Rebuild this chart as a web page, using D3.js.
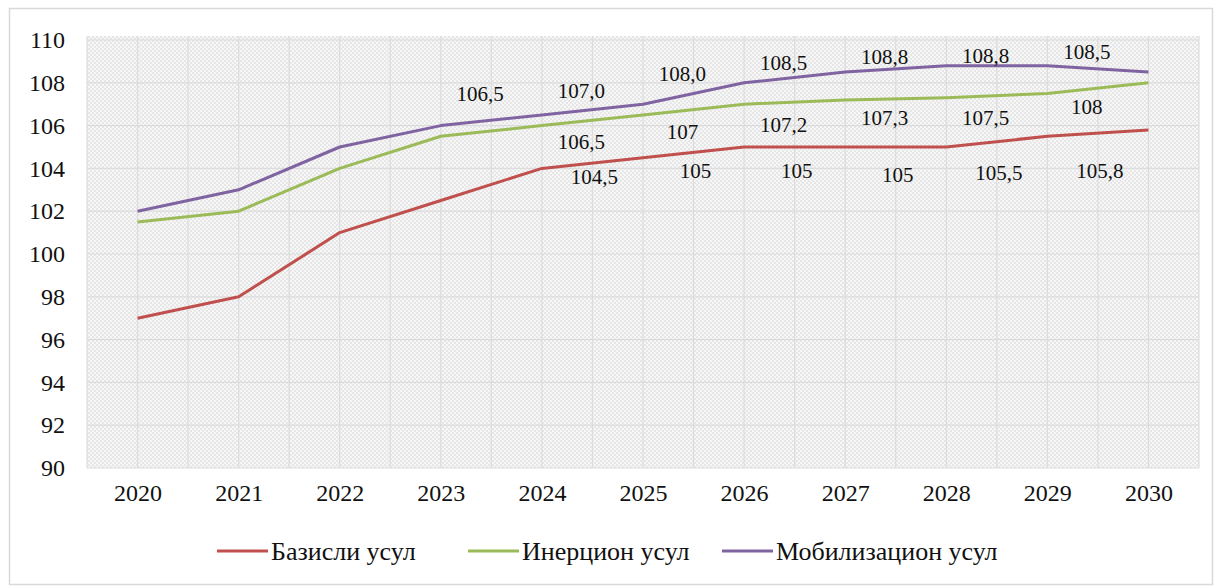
<!DOCTYPE html>
<html>
<head>
<meta charset="utf-8">
<script src="https://cdn.jsdelivr.net/npm/d3@7"></script>
<style>
  html, body { margin: 0; padding: 0; background: #fff; }
  svg { display: block; }
  svg text { font-family: "Liberation Serif", "Tinos", "Times New Roman", "DejaVu Serif", serif; fill: #111; }
</style>
</head>
<body>
<svg id="chart" width="1216" height="587"></svg>
<script>
// ---- data ----
const years = ["2020","2021","2022","2023","2024","2025","2026","2027","2028","2029","2030"];
const seriesNames = ["Базисли усул", "Инерцион усул", "Мобилизацион усул"];
const bazisli      = [97, 98, 101, 102.5, 104, 104.5, 105, 105, 105, 105.5, 105.8];
const inertsion    = [101.5, 102, 104, 105.5, 106, 106.5, 107, 107.2, 107.3, 107.5, 108];
const mobilizatsion= [102, 103, 105, 106, 106.5, 107, 108, 108.5, 108.8, 108.8, 108.5];
const yTicks = [90, 92, 94, 96, 98, 100, 102, 104, 106, 108, 110];

// data labels (text as printed, year they belong to, vertical anchor in chart units)
const bazisliLabels   = ["104,5","105","105","105","105,5","105,8"];
const bazisliLabelYears = ["2025","2026","2027","2028","2029","2030"];
const bazisliLabelAt  = [103.6, 103.9, 103.9, 103.7, 103.8, 103.9];
const inertsionLabels = ["106,5","107","107,2","107,3","107,5","108"];
const inertsionLabelYears = ["2025","2026","2027","2028","2029","2030"];
const inertsionLabelAt= [105.25, 105.7, 106.03, 106.35, 106.35, 106.9];
const mobilLabels     = ["106,5","107,0","108,0","108,5","108,8","108,8","108,5"];
const mobilLabelYears = ["2024","2025","2026","2027","2028","2029","2030"];
const mobilLabelAt    = [107.5, 107.65, 108.45, 108.95, 109.2, 109.25, 109.45];

const colors = ["#c0504d", "#9bbb59", "#8064a2"];

// ---- layout ----
const svg = d3.select("#chart");
const plot = { left: 87, right: 1199, top: 36, bottom: 468 };
const FONT = '"Liberation Serif", "Tinos", "Times New Roman", "DejaVu Serif", serif';

// outer frame
svg.append("rect").attr("x", 9.5).attr("y", 8.5).attr("width", 1203).attr("height", 576)
  .attr("fill", "#fff").attr("stroke", "#d9d9d9").attr("stroke-width", 1.5);

// pattern
const defs = svg.append("defs");
const pat = defs.append("pattern").attr("id", "dots").attr("width", 4).attr("height", 4)
  .attr("patternUnits", "userSpaceOnUse");
pat.append("rect").attr("width", 4).attr("height", 4).attr("fill", "#f7f7f7");
pat.append("rect").attr("x", 0).attr("y", 0).attr("width", 2).attr("height", 2).attr("fill", "#e6e6e6");
pat.append("rect").attr("x", 2).attr("y", 2).attr("width", 2).attr("height", 2).attr("fill", "#e6e6e6");

svg.append("rect").attr("x", plot.left).attr("y", plot.top)
  .attr("width", plot.right - plot.left).attr("height", plot.bottom - plot.top)
  .attr("fill", "url(#dots)");

const x = d3.scaleBand().domain(years).range([plot.left, plot.right]).padding(0);
const cx = d => x(d) + x.bandwidth() / 2;
const y = d3.scaleLinear().domain([90, 110]).range([468, 40]);

// gridlines
const grid = svg.append("g");
grid.selectAll("line.h").data(yTicks).join("line")
  .attr("x1", plot.left).attr("x2", plot.right)
  .attr("y1", d => y(d)).attr("y2", d => y(d))
  .attr("stroke", "#dcdcdc").attr("stroke-width", 1.2);
const vpos = [];
years.forEach(yr => { vpos.push(x(yr)); vpos.push(cx(yr)); });
vpos.push(plot.right);
grid.selectAll("line.v").data(vpos).join("line")
  .attr("x1", d => d).attr("x2", d => d)
  .attr("y1", plot.top).attr("y2", plot.bottom)
  .attr("stroke", "#dcdcdc").attr("stroke-width", 1.2);

// axes labels
const yAxis = d3.axisLeft(y).tickValues(yTicks).tickSize(0).tickPadding(0);
const gy = svg.append("g").attr("transform", "translate(65,0)").call(yAxis)
  .attr("font-family", FONT);
gy.select(".domain").remove();
gy.selectAll("text").attr("font-size", 24).attr("fill", "#111");

const xAxis = d3.axisBottom(d3.scalePoint().domain(years).range([cx(years[0]), cx(years[years.length-1])]))
  .tickSize(0).tickPadding(0);
const gx = svg.append("g").attr("transform", "translate(0,484)").call(xAxis)
  .attr("font-family", FONT);
gx.select(".domain").remove();
gx.selectAll("text").attr("font-size", 24).attr("fill", "#111");

// lines
const allSeries = [bazisli, inertsion, mobilizatsion];
const line = d3.line().x((d, i) => cx(years[i])).y(d => y(d));
svg.append("g").selectAll("path").data(allSeries).join("path")
  .attr("d", line).attr("fill", "none")
  .attr("stroke", (d, i) => colors[i]).attr("stroke-width", 3)
  .attr("stroke-linejoin", "round");

// data labels
const labelSets = [
  [bazisliLabels, bazisliLabelYears, bazisliLabelAt],
  [inertsionLabels, inertsionLabelYears, inertsionLabelAt],
  [mobilLabels, mobilLabelYears, mobilLabelAt]
];
const lg = svg.append("g").attr("font-family", FONT);
labelSets.forEach(([texts, yrs, at], si) => {
  const offs = si === 0 ? -0.48 : -0.61;
  lg.selectAll(null).data(texts).join("text")
    .attr("x", (d, i) => cx(yrs[i]) + offs * x.bandwidth())
    .attr("y", (d, i) => y(at[i]))
    .attr("dy", "0.35em")
    .attr("text-anchor", "middle")
    .attr("font-size", 21)
    .text(d => d);
});

// legend
const legendX = [217, 468, 722];
const legY = 551;
const leg = svg.append("g").attr("font-family", FONT);
seriesNames.forEach((name, i) => {
  leg.append("line").attr("x1", legendX[i]).attr("x2", legendX[i] + 51)
    .attr("y1", legY).attr("y2", legY)
    .attr("stroke", colors[i]).attr("stroke-width", 3);
  leg.append("text").attr("x", legendX[i] + 54).attr("y", legY).attr("dy", "0.35em")
    .attr("font-size", 26).text(name);
});
</script>
</body>
</html>
